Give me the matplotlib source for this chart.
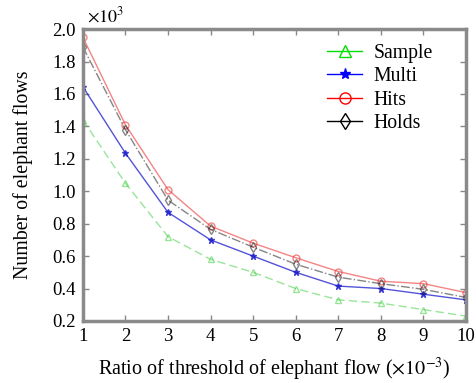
import numpy as np
import matplotlib.pyplot as plt

plt.rcParams['font.family'] = ['Liberation Serif', 'DejaVu Serif']
plt.rcParams['mathtext.fontset'] = 'stix'

# threshold ratio (x 10^-3) and number of elephant flows (x 10^3)
ratio = np.arange(1, 11)
sample = [1.44, 1.05, 0.72, 0.58, 0.50, 0.40, 0.33, 0.31, 0.27, 0.23]
multi = [1.645, 1.235, 0.87, 0.70, 0.60, 0.50, 0.415, 0.40, 0.365, 0.33]
hits = [1.95, 1.41, 1.01, 0.785, 0.68, 0.59, 0.505, 0.445, 0.43, 0.375]
holds = [1.89, 1.38, 0.945, 0.765, 0.655, 0.55, 0.47, 0.43, 0.395, 0.345]

fig = plt.figure(figsize=(4.76, 3.83), dpi=100)
ax = fig.add_axes([0.174, 0.162, 0.805, 0.762])

ax.plot(ratio, sample, '--^', color='#33cc33', mfc='none', ms=5, lw=1, alpha=0.5,
        dashes=(6, 3), label='Sample')
ax.plot(ratio, multi, '-*', color='#1a1acc', ms=5, lw=1, alpha=0.75, label='Multi')
ax.plot(ratio, hits, '-o', color='#ee3333', mfc='none', ms=5, lw=1, alpha=0.6, label='Hits')
ax.plot(ratio, holds, '-.d', color='#222222', mfc='none', ms=5, lw=1, alpha=0.55, label='Holds')

ax.set_xlim(1, 10)
ax.set_ylim(0.2, 2.0)
ax.set_xticks(ratio)
ax.set_yticks(np.arange(0.2, 2.01, 0.2))
ax.yaxis.set_major_formatter(plt.FormatStrFormatter('%.1f'))
ax.tick_params(direction='in', length=4, width=1, color='#888888', labelsize=13.5,
               top=True, right=True, pad=5)
for s in ax.spines.values():
    s.set_color('#8a8a8a')
    s.set_linewidth(2.5)

ax.text(0.01, 1.012, r'$\times10^3$', transform=ax.transAxes, fontsize=13, ha='left', va='bottom')
ax.set_ylabel('Number of elephant flows', fontsize=14.3, labelpad=14)
ax.set_xlabel(r'Ratio of threshold of elephant flow ($\times10^{-3}$)', fontsize=14.5, labelpad=8)

leg = ax.legend(loc='upper left', bbox_to_anchor=(0.611, 0.983), fontsize=14.2, frameon=False,
                handlelength=1.8, handletextpad=0.55, labelspacing=0.22,
                borderaxespad=0, borderpad=0.5, markerscale=1.6)
# legend keys in full-strength colours with solid lines
for h, c in zip(leg.legend_handles, ['#00e000', '#0000ff', '#ff0000', '#000000']):
    h.set_alpha(1)
    h.set_linestyle('-')
    h.set_color(c)

fig.savefig('out.png', dpi=100)
